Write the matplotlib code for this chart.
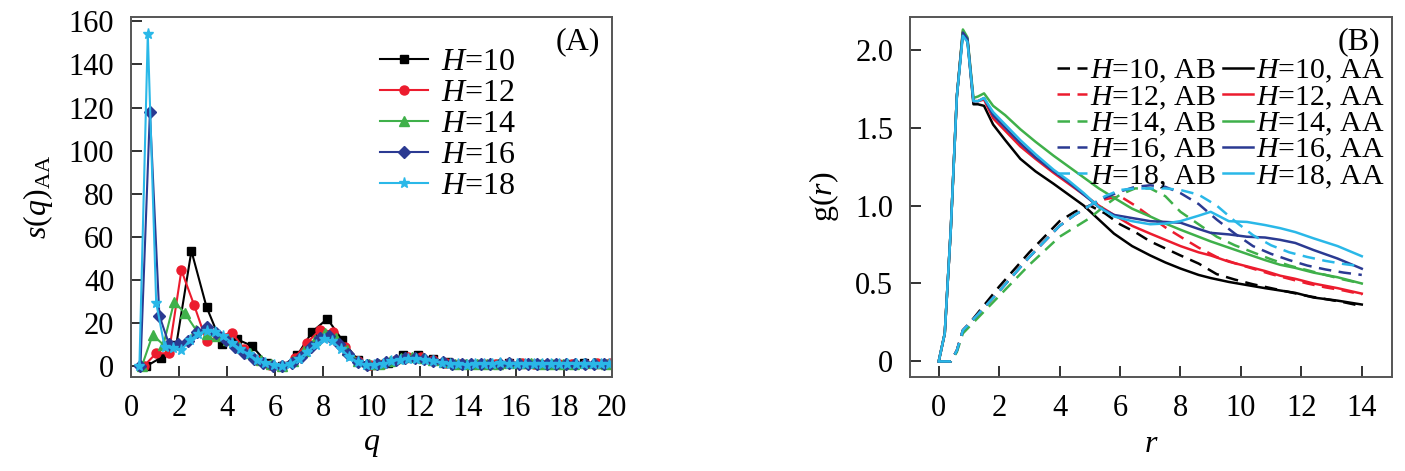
import numpy as np
import matplotlib
matplotlib.use('Agg')
import matplotlib.pyplot as plt

plt.rcParams['font.family'] = ['Liberation Serif', 'DejaVu Serif']
plt.rcParams['mathtext.fontset'] = 'custom'
plt.rcParams['mathtext.rm'] = 'Liberation Serif'
plt.rcParams['mathtext.it'] = 'Liberation Serif:italic'

# ---- panel A: s(q)_AA, points spaced by q step of each H ----
H_values = [10, 12, 14, 16, 18]
q_step = [0.628, 0.524, 0.449, 0.393, 0.349]

s_H10 = [0, 4, 10, 53.5, 27.5, 10.5, 12.5, 9.5, 1.5, 0, 5, 16, 22, 12, 3, 0.5,
         1.5, 5, 5, 3.5, 2, 1, 1, 1.2, 1.5, 1.2, 1, 1, 1.2, 1.3, 1.1]
s_H12 = [0, 6, 6, 44.5, 28.5, 11.5, 14, 15.5, 8, 3, 0.5, 0, 4, 11, 17, 16, 9,
         2.5, 0.5, 1, 3, 4.5, 4.5, 3, 1.5, 1, 1, 1, 1.2, 1.5, 1.5, 1.2, 1, 1,
         1, 1.2, 1.5, 1.3]
s_H14 = [0, 14.5, 10, 30, 24.5, 17, 15, 14, 12, 9, 6, 3, 1, 0, 2.5, 7, 12,
         15.5, 13, 7.5, 2.5, 0.8, 1, 2.5, 4, 4.5, 4, 3, 2, 1.2, 1, 1, 1, 1.2,
         1.5, 1.5, 1.3, 1, 1, 1, 1.2, 1.3, 1.3, 1.2]
s_H16 = [0, 118, 23.5, 10.5, 10.5, 11.5, 16, 18, 15.5, 12, 9, 6, 3.5, 1.5,
         0.3, 0, 1.5, 4.5, 9, 13, 14, 10.5, 5.5, 2, 0.5, 0.8, 1.8, 3, 4, 4,
         3.5, 2.5, 1.8, 1.2, 1, 0.8, 0.8, 1, 1.2, 1.3, 1.2, 1, 0.9, 0.8, 0.9,
         1, 1.1, 1.1, 1, 0.9]
s_H18 = [0, 154, 29.5, 9, 8.5, 7.5, 12, 15, 16.5, 16, 14, 11, 8, 5.5, 3, 1.5,
         0.5, 0, 1, 3.5, 6.5, 10, 12.5, 11.5, 8, 4.5, 1.8, 0.5, 0.5, 1.2, 2.2,
         3, 3.5, 3.5, 3, 2.3, 1.6, 1, 0.8, 0.7, 0.8, 1, 1.2, 1.3, 1.2, 1, 0.9,
         0.8, 0.9, 1, 1.1, 1.1, 1, 0.9, 0.9, 1, 1]
s_all = [s_H10, s_H12, s_H14, s_H16, s_H18]

colors = ['#000000', '#ec1c2e', '#3fb04a', '#2b3a92', '#2ab8e8']
markers = ['s', 'o', '^', 'D', '*']
msizes = [6, 6.5, 7, 6, 8]

# ---- panel B: g(r) ----
r_aa = [0, 0.2, 0.4, 0.6, 0.8, 0.95, 1.15, 1.3, 1.5, 1.8, 2.2, 2.7, 3.2, 3.8,
        4.3, 4.8, 5.3, 5.8, 6.4, 7.0, 7.5, 8.0, 8.6, 9.0, 9.6, 10.2, 10.8,
        11.3, 11.8, 12.4, 13.2, 14.0]
g_aa_H10 = [0, .18, .85, 1.7, 2.11, 2.06, 1.65, 1.65, 1.64, 1.52, 1.42, 1.30,
            1.22, 1.14, 1.07, 1.00, 0.91, 0.82, 0.74, 0.68, 0.635, 0.596,
            0.555, 0.535, 0.51, 0.49, 0.47, 0.455, 0.44, 0.41, 0.39, 0.365]
g_aa_H12 = [0, .18, .85, 1.7, 2.12, 2.07, 1.67, 1.67, 1.68, 1.56, 1.48, 1.38,
            1.30, 1.21, 1.14, 1.07, 1.00, 0.94, 0.87, 0.82, 0.78, 0.74, 0.70,
            0.68, 0.64, 0.61, 0.58, 0.55, 0.53, 0.50, 0.47, 0.435]
g_aa_H14 = [0, .18, .85, 1.7, 2.13, 2.08, 1.69, 1.70, 1.72, 1.64, 1.58, 1.49,
            1.41, 1.32, 1.25, 1.18, 1.11, 1.05, 0.98, 0.93, 0.885, 0.845, 0.80,
            0.77, 0.73, 0.69, 0.65, 0.62, 0.60, 0.57, 0.54, 0.50]
g_aa_H16 = [0, .18, .85, 1.7, 2.11, 2.07, 1.67, 1.67, 1.69, 1.58, 1.50, 1.40,
            1.31, 1.22, 1.15, 1.07, 0.99, 0.94, 0.92, 0.90, 0.895, 0.89, 0.85,
            0.825, 0.815, 0.80, 0.795, 0.78, 0.76, 0.715, 0.66, 0.595]
g_aa_H18 = [0, .18, .85, 1.7, 2.09, 2.05, 1.67, 1.67, 1.69, 1.60, 1.52, 1.42,
            1.33, 1.23, 1.16, 1.08, 0.99, 0.93, 0.90, 0.88, 0.885, 0.90, 0.935,
            0.96, 0.90, 0.895, 0.875, 0.855, 0.83, 0.79, 0.74, 0.675]

r_ab = [0, 0.4, 0.6, 0.8, 1.0, 2.0, 3.0, 4.0, 4.5, 5.0, 5.5, 6.0, 6.5, 7.0,
        7.5, 8.0, 8.6, 9.2, 9.8, 10.4, 11.0, 11.6, 12.2, 12.8, 13.4, 14.0]
g_ab_H10 = [0, 0, 0.07, 0.2, 0.24, 0.48, 0.70, 0.90, 0.96, 1.0, 0.95, 0.88,
            0.83, 0.77, 0.725, 0.68, 0.628, 0.56, 0.525, 0.495, 0.47, 0.445,
            0.42, 0.40, 0.38, 0.355]
g_ab_H12 = [0, 0, 0.07, 0.2, 0.24, 0.45, 0.67, 0.87, 0.94, 1.0, 1.04, 1.06,
            1.0, 0.93, 0.86, 0.80, 0.73, 0.67, 0.63, 0.595, 0.56, 0.53, 0.50,
            0.475, 0.455, 0.43]
g_ab_H14 = [0, 0, 0.06, 0.18, 0.22, 0.42, 0.62, 0.80, 0.86, 0.92, 1.0, 1.07,
            1.11, 1.11, 1.06, 0.96, 0.88, 0.80, 0.745, 0.70, 0.655, 0.615,
            0.585, 0.555, 0.525, 0.50]
g_ab_H16 = [0, 0, 0.07, 0.2, 0.24, 0.45, 0.67, 0.87, 0.94, 1.0, 1.05, 1.09,
            1.12, 1.13, 1.12, 1.08, 1.01, 0.91, 0.82, 0.74, 0.69, 0.65, 0.615,
            0.59, 0.57, 0.555]
g_ab_H18 = [0, 0, 0.07, 0.2, 0.24, 0.45, 0.67, 0.87, 0.94, 1.0, 1.06, 1.10,
            1.11, 1.11, 1.11, 1.10, 1.07, 1.0, 0.90, 0.81, 0.745, 0.70, 0.67,
            0.645, 0.625, 0.61]
g_aa_all = [g_aa_H10, g_aa_H12, g_aa_H14, g_aa_H16, g_aa_H18]
g_ab_all = [g_ab_H10, g_ab_H12, g_ab_H14, g_ab_H16, g_ab_H18]

fig = plt.figure(figsize=(14.05, 4.71), dpi=100)
axA = fig.add_axes([131 / 1405, 94 / 471, 481 / 1405, 360 / 471])
axB = fig.add_axes([910 / 1405, 94 / 471, 482 / 1405, 360 / 471])

for H, dq, s, c, m, ms in zip(H_values, q_step, s_all, colors, markers, msizes):
    q = dq * np.arange(1, len(s) + 1)
    axA.plot(q, s, color=c, marker=m, ms=ms, lw=1.5, label=r'$H$=%d' % H)

axA.set_xlim(0, 20)
axA.set_ylim(-5, 162)
axA.set_xticks(range(0, 21, 2))
axA.set_yticks(range(0, 161, 20))
axA.set_xlabel(r'$q$', fontsize=23, labelpad=5)
axA.set_ylabel(r'$s(q)_{\mathrm{AA}}$', fontsize=23, labelpad=10)
axA.text(0.975, 0.93, '(A)', transform=axA.transAxes, ha='right', va='center',
         fontsize=23)
axA.legend(loc='upper left', bbox_to_anchor=(0.518, 0.915), frameon=False,
           fontsize=23, handlelength=1.5, handletextpad=0.4, labelspacing=0.05,
           borderpad=0, borderaxespad=0)

ab_handles = []
aa_handles = []
for H, ga, gb, c in zip(H_values, g_aa_all, g_ab_all, colors):
    hb, = axB.plot(r_ab, gb, color=c, lw=1.8, ls=(0, (5, 3)),
                   label=r'$H$=%d, AB' % H)
    ha, = axB.plot(r_aa, ga, color=c, lw=1.8, label=r'$H$=%d, AA' % H)
    ab_handles.append(hb)
    aa_handles.append(ha)

axB.set_xlim(-0.95, 15)
axB.set_ylim(-0.1, 2.21)
axB.set_xticks(range(0, 15, 2))
axB.set_yticks([0, 0.5, 1.0, 1.5, 2.0])
axB.set_yticklabels(['0', '0.5', '1.0', '1.5', '2.0'])
axB.set_xlabel(r'$r$', fontsize=23, labelpad=5)
axB.set_ylabel(r'g$(r)$', fontsize=23, labelpad=10)
axB.text(0.975, 0.93, '(B)', transform=axB.transAxes, ha='right', va='center',
         fontsize=23)
axB.legend(ab_handles + aa_handles,
           [h.get_label() for h in ab_handles + aa_handles],
           ncol=2, loc='upper right', bbox_to_anchor=(0.985, 0.887),
           frameon=False, fontsize=21.5, handlelength=1.0, handletextpad=0.1,
           labelspacing=-0.04, columnspacing=0.25, borderpad=0, borderaxespad=0)

for ax in (axA, axB):
    ax.tick_params(direction='in', length=8, width=1.3, labelsize=22, pad=12,
                   color='#222222')
    for sp in ax.spines.values():
        sp.set_linewidth(1.4)
        sp.set_color('#555555')

fig.savefig('out.png', dpi=100)
